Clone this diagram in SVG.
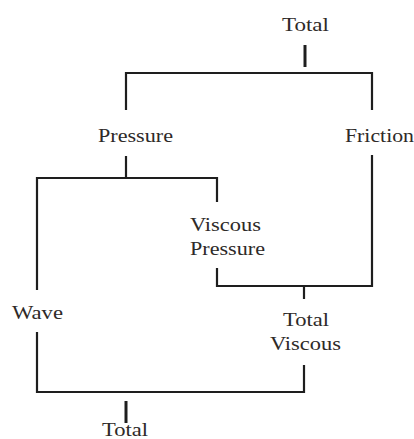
<svg xmlns="http://www.w3.org/2000/svg" width="414" height="439" viewBox="0 0 414 439">
  <style>
    .lbl { font-family: "Liberation Serif", "Times New Roman", serif; font-size: 19px; fill: #2e2a28; }
    .wire { fill: none; stroke: #1e1e1e; stroke-width: 2.2; stroke-linejoin: miter; stroke-linecap: butt; }
    .stub { fill: none; stroke: #1e1e1e; stroke-width: 3; }
  </style>
  <rect width="414" height="439" fill="#ffffff"/>

  <!-- connectors -->
  <g id="connectors">
    <!-- Total splits into Pressure and Friction -->
    <line class="stub" x1="305" y1="45" x2="305" y2="67"/>
    <path class="wire" d="M126,110 V73 H372 V110"/>
    <!-- Pressure splits into Wave and Viscous Pressure -->
    <line class="wire" x1="126" y1="156" x2="126" y2="178"/>
    <path class="wire" d="M37,290 V178 H217 V202"/>
    <!-- Viscous Pressure + Friction join into Total Viscous -->
    <path class="wire" d="M217,268 V286 H372 V155"/>
    <line class="wire" x1="304" y1="286" x2="304" y2="299"/>
    <!-- Wave + Total Viscous join into Total -->
    <path class="wire" d="M37,332 V392 H304 V365"/>
    <line class="stub" x1="126" y1="401" x2="126" y2="423"/>
  </g>

  <g id="node-total-top">
    <text class="lbl" x="282" y="31" textLength="47" lengthAdjust="spacingAndGlyphs">Total</text>
  </g>
  <g id="node-pressure">
    <text class="lbl" x="98" y="142" textLength="75" lengthAdjust="spacingAndGlyphs">Pressure</text>
  </g>
  <g id="node-friction">
    <text class="lbl" x="345" y="142" textLength="69" lengthAdjust="spacingAndGlyphs">Friction</text>
  </g>
  <g id="node-viscous-pressure">
    <text class="lbl" x="190" y="231" textLength="71" lengthAdjust="spacingAndGlyphs">Viscous</text>
    <text class="lbl" x="190" y="255" textLength="75" lengthAdjust="spacingAndGlyphs">Pressure</text>
  </g>
  <g id="node-wave">
    <text class="lbl" x="12" y="319" textLength="51" lengthAdjust="spacingAndGlyphs">Wave</text>
  </g>
  <g id="node-total-viscous">
    <text class="lbl" x="283" y="326" textLength="46" lengthAdjust="spacingAndGlyphs">Total</text>
    <text class="lbl" x="270" y="350" textLength="71" lengthAdjust="spacingAndGlyphs">Viscous</text>
  </g>
  <g id="node-total-bottom">
    <text class="lbl" x="102" y="436" textLength="46" lengthAdjust="spacingAndGlyphs">Total</text>
  </g>
</svg>
